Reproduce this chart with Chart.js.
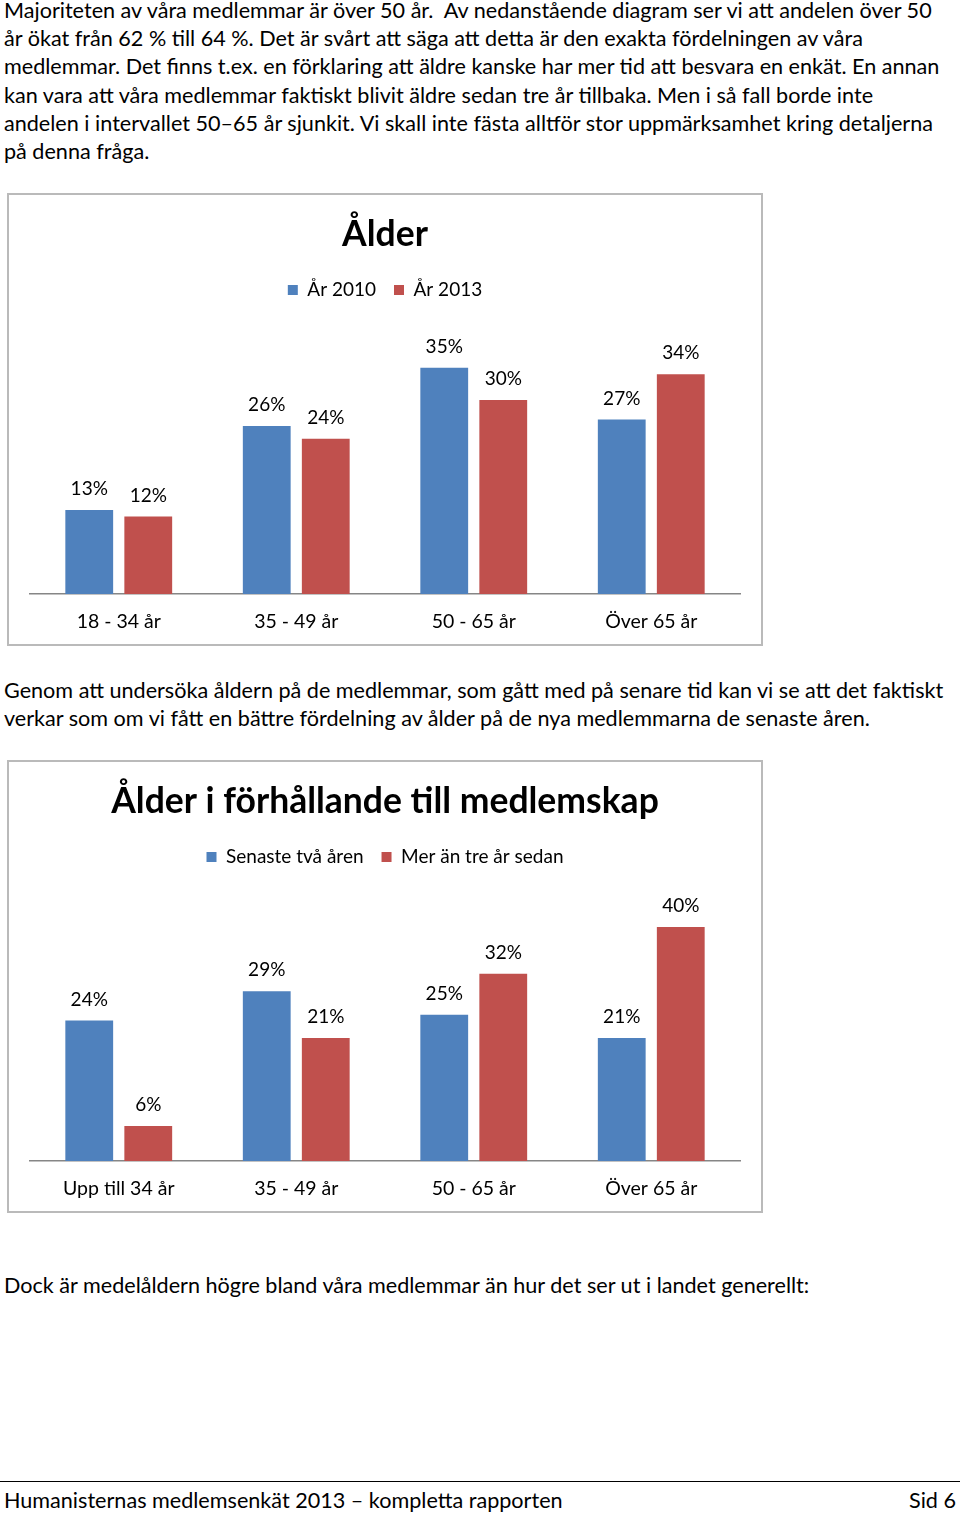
<!DOCTYPE html>
<html lang="sv">
<head>
<meta charset="utf-8">
<script src="https://cdn.jsdelivr.net/npm/chart.js@4.4.1/dist/chart.umd.min.js"></script>
<style>
  html, body { margin: 0; padding: 0; background: #fff; }
  body { width: 960px; height: 1513px; position: relative; overflow: hidden;
         font-family: Lato, "Open Sans", sans-serif; color: #000; }
  .txt { position: absolute; left: 4px; font-size: 21.6px; line-height: 28.2px; white-space: nowrap; }
  .box { position: absolute; left: 7px; width: 752px; height: 449px; border: 2px solid #bababa; }
  .box canvas { display: block; }
  .rule { position: absolute; left: 0; top: 1481px; width: 960px; height: 1px; background: #000; }
</style>
</head>
<body>

<div class="txt" style="top:-4px">
Majoriteten av våra medlemmar är över 50 år.&nbsp; Av nedanstående diagram ser vi att andelen över 50<br>
år ökat från 62 % till 64 %. Det är svårt att säga att detta är den exakta fördelningen av våra<br>
medlemmar. Det finns t.ex. en förklaring att äldre kanske har mer tid att besvara en enkät. En annan<br>
kan vara att våra medlemmar faktiskt blivit äldre sedan tre år tillbaka. Men i så fall borde inte<br>
andelen i intervallet 50–65 år sjunkit. Vi skall inte fästa alltför stor uppmärksamhet kring detaljerna<br>
på denna fråga.
</div>

<div class="box" style="top:193px"><canvas id="ageChart" width="752" height="449"></canvas></div>

<div class="txt" style="top:676px">
Genom att undersöka åldern på de medlemmar, som gått med på senare tid kan vi se att det faktiskt<br>
verkar som om vi fått en bättre fördelning av ålder på de nya medlemmarna de senaste åren.
</div>

<div class="box" style="top:760px"><canvas id="memberChart" width="752" height="449"></canvas></div>

<div class="txt" style="top:1271px">
Dock är medelåldern högre bland våra medlemmar än hur det ser ut i landet generellt:
</div>

<div class="rule"></div>
<div class="txt" style="top:1486px">Humanisternas medlemsenkät 2013 – kompletta rapporten</div>
<div class="txt" style="top:1486px; left:auto; right:4px">Sid 6</div>

<script>
// Ålder
const ageLabels = ["18 - 34 år", "35 - 49 år", "50 - 65 år", "Över 65 år"]
const yearNames = ["År 2010", "År 2013"]
const share2010 = [13, 26, 35, 27]
const share2013 = [12, 24, 30, 34]

// Ålder i förhållande till medlemskap
const memberAgeLabels = ["Upp till 34 år", "35 - 49 år", "50 - 65 år", "Över 65 år"]
const memberNames = ["Senaste två åren", "Mer än tre år sedan"]
const recentShare = [24, 29, 25, 21]
const olderShare = [6, 21, 32, 40]

const BLUE = "#4f81bd"
const RED = "#c0504d"
const FONT = "Lato, 'Open Sans', sans-serif"

// percent labels above each bar
const barLabels = {
    id: "barLabels",
    afterDatasetsDraw(chart) {
        const ctx = chart.ctx
        ctx.save()
        ctx.font = "19px " + FONT
        ctx.fillStyle = "#000"
        ctx.textAlign = "center"
        ctx.textBaseline = "middle"
        chart.data.datasets.forEach((ds, i) => {
            chart.getDatasetMeta(i).data.forEach((bar, j) => {
                ctx.fillText(ds.data[j] + "%", bar.x, bar.y - 21)
            })
        })
        ctx.restore()
    },
}

const makeChart = (id, title, labels, names, first, second, yMax) => {
    return new Chart(document.getElementById(id), {
        type: "bar",
        data: {
            labels,
            datasets: [
                { label: names[0], data: first, backgroundColor: BLUE },
                { label: names[1], data: second, backgroundColor: RED },
            ],
        },
        plugins: [barLabels],
        options: {
            responsive: false,
            animation: false,
            events: [],
            layout: { padding: { left: 21, right: 21, top: 18, bottom: 0 } },
            datasets: { bar: { categoryPercentage: 0.665, barPercentage: 0.81 } },
            plugins: {
                title: {
                    display: true,
                    text: title,
                    color: "#000",
                    font: { family: FONT, size: 35.5, weight: "bold" },
                    padding: { top: 0, bottom: 7 },
                },
                legend: {
                    position: "top",
                    labels: {
                        color: "#000",
                        font: { family: FONT, size: 19 },
                        boxWidth: 10,
                        boxHeight: 10,
                        padding: 18,
                    },
                },
                tooltip: { enabled: false },
            },
            scales: {
                x: {
                    grid: { display: false },
                    border: { display: true, color: "#868686", width: 1.5 },
                    ticks: { color: "#000", font: { family: FONT, size: 19.5 }, padding: 8 },
                    afterFit: (s) => { s.height = 50 },
                },
                y: { display: false, min: 0, max: yMax },
            },
        },
    })
}

makeChart("ageChart", "Ålder", ageLabels, yearNames, share2010, share2013, 44)
makeChart("memberChart", "Ålder i förhållande till medlemskap", memberAgeLabels, memberNames, recentShare, olderShare, 48.6)
</script>
</body>
</html>
